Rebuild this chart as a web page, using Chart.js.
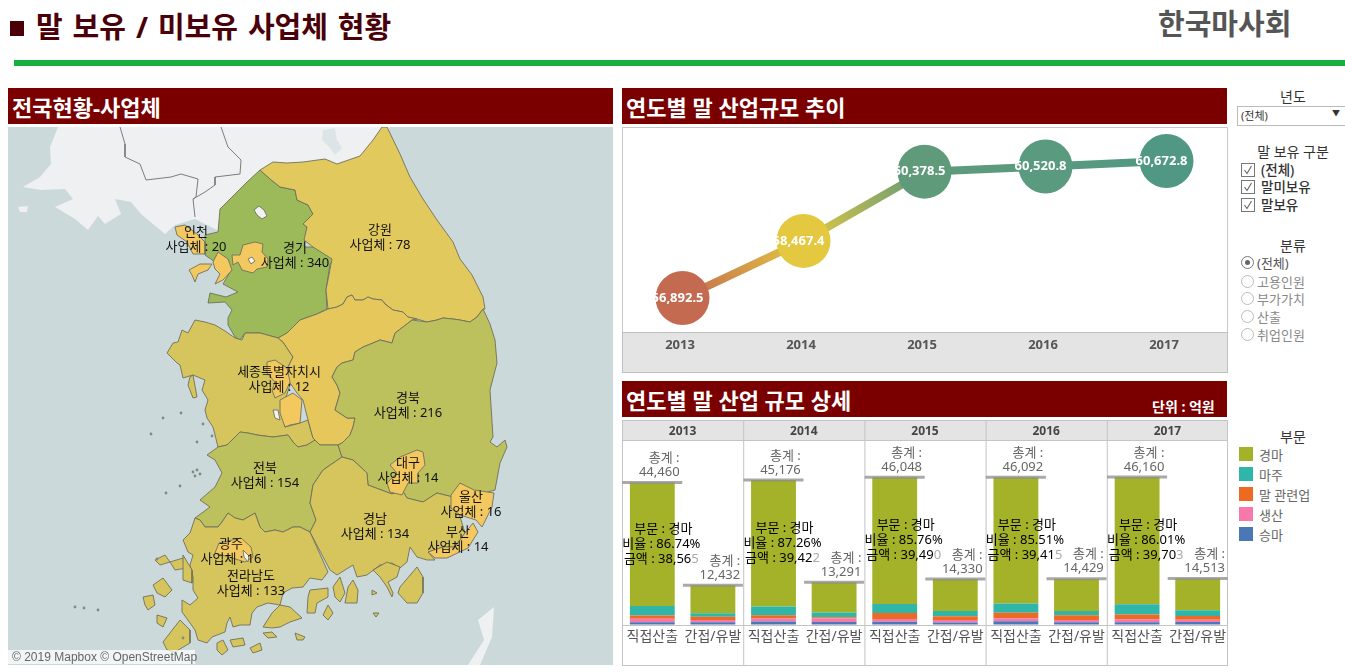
<!DOCTYPE html>
<html lang="ko">
<head>
<meta charset="utf-8">
<title>말 보유 / 미보유 사업체 현황</title>
<script src="https://cdn.jsdelivr.net/npm/chart.js@4"></script>
<style>
  html, body { margin: 0; padding: 0; background: #fff; overflow: hidden; }
  body { width: 1345px; height: 672px; position: relative; font-family: "Noto Sans", "Noto Sans CJK KR", sans-serif; color: #333; }
  .abs { position: absolute; white-space: nowrap; }
  canvas { position: absolute; display: block; }
  .bar-head { position: absolute; background: #7a0000; color: #fff; font-weight: 700; font-size: 22px; height: 36px; line-height: 39px; padding-left: 4px; box-sizing: border-box; white-space: nowrap; }
  .side-title { position: absolute; left: 1240px; width: 106px; text-align: center; font-size: 14px; line-height: 16px; color: #333; white-space: nowrap; }
  .check { position: absolute; left: 1241px; width: 14px; height: 14px; box-sizing: border-box; border: 1px solid #777; background: #fff; }
  .check svg { position: absolute; left: 1px; top: 1px; }
  .check-label { position: absolute; left: 1261px; font-size: 13.5px; line-height: 16px; color: #333; white-space: nowrap; font-weight: 500; }
  .radio { position: absolute; left: 1241px; width: 13px; height: 13px; box-sizing: border-box; border: 1px solid #bbb; border-radius: 50%; background: #fff; }
  .radio.on { border-color: #777; }
  .radio.on::after { content: ""; position: absolute; left: 3px; top: 3px; width: 5px; height: 5px; border-radius: 50%; background: #666; }
  .radio-label { position: absolute; left: 1257px; font-size: 13px; line-height: 14px; color: #888; white-space: nowrap; }
  .radio-label.on { color: #555; }
  .swatch { position: absolute; left: 1239px; width: 14px; height: 14px; }
  .swatch-label { position: absolute; left: 1259px; font-size: 13px; line-height: 14px; color: #666; white-space: nowrap; }
</style>
</head>
<body>

<!-- ====== HEADER ====== -->
<div class="abs" style="left:10px;top:21px;width:14px;height:15px;background:#4a0008"></div>
<div class="abs" style="left:36px;top:7px;font-size:29px;line-height:40px;font-weight:700;color:#4a0008;word-spacing:2.4px">말 보유 / 미보유 사업체 현황</div>
<div class="abs" style="left:1158px;top:3px;font-size:29px;line-height:42px;font-weight:700;color:#555">한국마사회</div>
<div class="abs" style="left:14px;top:60px;width:1331px;height:6px;background:#17b03e"></div>

<div class="bar-head" style="left:8px;top:88px;width:605px">전국현황-사업체</div>
<div class="bar-head" style="left:622px;top:88px;width:605px">연도별 말 산업규모 추이</div>
<div class="bar-head" style="left:622px;top:381px;width:605px">연도별 말 산업 규모 상세</div>
<div class="abs" style="left:1152px;top:398px;font-size:14px;line-height:18px;font-weight:700;color:#fff">단위 : 억원</div>

<!-- ====== PANELS ====== -->
<canvas id="mapChart" width="605" height="538" style="left:8px;top:127px;background:#cbd9db"></canvas>
<div class="abs" style="left:8px;top:650px;width:187px;height:14px;background:rgba(255,255,255,.72);font-family:'Liberation Sans',sans-serif;font-size:12px;line-height:14px;color:#666;padding-left:4px;box-sizing:border-box">© 2019 Mapbox  © OpenStreetMap</div>

<div class="abs" style="left:622px;top:127px;width:606px;height:246px;box-sizing:border-box;border:1px solid #c8c8c8"></div>
<div class="abs" style="left:622px;top:332px;width:606px;height:41px;box-sizing:border-box;background:#e4e4e4;border:1px solid #c0c0c0"></div>
<canvas id="trendChart" width="605" height="244" style="left:622px;top:128px"></canvas>

<canvas id="detailChart" width="606" height="246" style="left:622px;top:420px"></canvas>

<!-- ====== FILTERS ====== -->
<div class="side-title" style="top:89px">년도</div>
<div class="abs" style="left:1237px;top:106px;width:110px;height:20px;box-sizing:border-box;border:1px solid #bbb;font-size:11px;line-height:18px;padding-left:3px;color:#333">(전체)</div>
<div class="abs" style="left:1332px;top:106px;font-size:8px;line-height:14px;color:#333">▼</div>
<div id="filters"></div>
<div id="legendBox"></div>

<script>
// ====== DATA ======
const years = ['2013', '2014', '2015', '2016', '2017'];
const trendValues = [56892.5, 58467.4, 60378.5, 60520.8, 60672.8];
const trendColors = ['#c46a50', '#e3c840', '#5f9a7b', '#5a9a7f', '#509883'];

const detailCats = ['직접산출', '간접/유발', '직접산출', '간접/유발', '직접산출', '간접/유발', '직접산출', '간접/유발', '직접산출', '간접/유발'];
const racing = [38565, 8777, 39422, 9400, 39490, 9930, 39415, 10030, 39703, 9930];
const owners = [2925, 1045, 2700, 1460, 2820, 1670, 2820, 1360, 3190, 1780];
const related = [1045, 1045, 1045, 420, 1880, 1150, 1780, 1460, 1460, 1150];
const breeding = [1045, 730, 940, 1045, 835, 835, 940, 730, 940, 730];
const riding = [880, 835, 1069, 966, 1023, 745, 1137, 849, 867, 923];
const totals = [44460, 12432, 45176, 13291, 46048, 14330, 46092, 14429, 46160, 14513];
const racingShare = ['86.74%', '87.26%', '85.76%', '85.51%', '86.01%'];

const sectors = ['경마', '마주', '말 관련업', '생산', '승마'];
const sectorColors = ['#a3b228', '#2fb6a8', '#ee6a22', '#f878ab', '#4a77b6'];

const ownFilter = ['(전체)', '말미보유', '말보유'];
const kindFilter = ['(전체)', '고용인원', '부가가치', '산출', '취업인원'];

// map regions, outlines in map units
const land = [[58,127],[50,147],[51,164],[40,177],[23,187],[41,190],[65,189],[73,199],[55,207],[75,219],[88,230],[98,216],[105,224],[121,214],[115,199],[131,202],[141,214],[165,234],[175,225],[195,219],[221,232],[225,220],[250,190],[270,175],[300,165],[340,165],[375,150],[390,127]];
const landIsle = [[18,207],[28,206],[27,212],[20,212]];
const tsushima = [[494,607],[478,620],[484,640],[468,665],[480,665],[492,637]];
const lakeNorth = [[323,130],[335,128],[337,140],[342,148],[335,155],[330,148],[322,140]];
const borderWest = [[120,127],[125,144],[125,157],[140,164],[146,180],[171,177],[181,174],[198,179],[196,197],[193,199],[195,217]];
const borderEast = [[221,127],[228,147],[241,160],[240,174],[215,177],[215,185],[205,192],[193,199]];

const gwSouth = [[328,309],[337,307],[343,304],[347,297],[352,295],[355,300],[363,300],[368,297],[373,299],[382,300],[385,304],[393,310],[403,312],[408,317],[417,319],[427,322],[437,320],[443,318],[453,319],[460,320],[470,322],[477,317],[483,309]];
const gbWest = [[412,320],[403,327],[395,333],[392,343],[380,340],[373,343],[363,347],[355,352],[353,360],[342,363],[337,367],[332,377],[337,385],[340,393],[335,410],[347,418],[355,418],[353,427],[350,435],[342,443],[338,445]];
const jbSouth = [[195,518],[200,520],[205,527],[218,527],[222,522],[228,513],[235,518],[243,520],[255,513],[260,527],[265,532],[275,530],[283,532],[293,527],[300,527],[310,532]];
const cnSouth = [[218,447],[227,445],[240,432],[248,433],[257,435],[273,437],[288,435],[293,442],[298,447],[307,445],[315,440]];

const gangwonNorth = [[260,170],[273,162],[287,163],[303,162],[325,159],[337,164],[360,156],[373,140],[382,127],[387,127],[400,154],[410,177],[423,199],[437,220],[453,242],[460,259],[472,275],[483,297],[485,309]];
const gangwonWest = [[326,290],[332,259],[313,247],[304,240],[307,227],[303,224],[313,214],[308,205],[297,200],[295,190],[280,187],[270,179]];
const gangwon = gangwonNorth.concat(gwSouth.slice().reverse(), gangwonWest);
const gyeonggi = [[260,170],[270,179],[280,187],[295,190],[297,200],[308,205],[313,214],[303,224],[307,227],[304,247],[315,247],[335,259],[330,264],[326,290],[327,309],[317,314],[300,320],[287,333],[278,338],[260,333],[245,333],[240,340],[235,337],[228,325],[228,318],[232,310],[225,302],[208,303],[210,293],[226,297],[238,292],[223,284],[230,272],[215,262],[205,255],[205,235],[218,232],[220,209],[247,182]];
const lakeGyeonggi = [[254,210],[259,206],[264,210],[267,216],[262,219],[257,215]];
const chungnam = [[195,320],[205,322],[215,325],[225,331],[235,338],[242,340],[245,333],[260,333],[278,338],[283,342],[293,357],[288,367],[290,385],[285,400],[285,427],[300,423],[308,420],[313,438]].concat(cnSouth.slice().reverse(), [[213,427],[207,418],[205,410],[208,400],[202,390],[205,380],[193,375],[183,378],[180,365],[177,363],[167,353],[173,343],[178,342],[182,330],[188,333]]);
const anmyeon = [[190,377],[193,375],[197,397],[193,398],[188,385]];
const chungbuk = gwSouth.slice(0, 15).concat(gbWest, [[320,445],[313,438],[308,420],[303,400],[297,393],[288,380],[288,367],[293,357],[283,342],[278,338],[287,333],[300,320],[317,314]]);
const gyeongbuk = [[483,309],[490,324],[495,340],[497,363],[490,390],[493,437],[490,442],[497,447],[505,440],[507,447],[500,463],[495,490],[470,497],[453,497],[437,493],[423,502],[407,498],[402,490],[392,494],[368,485],[367,473],[353,460],[342,457]].concat(gbWest.slice().reverse(), gwSouth.slice(15));
const jeonbuk = [[207,455]].concat(cnSouth, [[320,445],[338,445],[342,457],[323,470],[313,485],[310,503],[316,520]], jbSouth.slice().reverse(), [[210,507],[200,500],[215,487],[222,473],[215,460]]);
const gyeongnam = [[342,457],[353,460],[367,473],[368,485],[392,494],[402,490],[407,498],[423,502],[437,493],[453,497],[458,510],[465,533],[455,547],[443,547],[428,552],[435,560],[427,560],[417,557],[410,547],[407,562],[400,568],[392,563],[380,565],[367,575],[357,577],[353,565],[345,570],[337,575],[330,570],[310,532],[316,520],[310,503],[313,485],[323,470]];
const jeonnam = jbSouth.concat([[328,572],[322,580],[310,578],[303,587],[292,588],[283,593],[280,605],[268,603],[257,607],[252,613],[250,625],[240,625],[233,627],[230,617],[227,623],[225,632],[212,637],[207,643],[198,640],[195,630],[190,623],[182,612],[182,600],[190,605],[198,598],[193,590],[193,577],[190,565],[193,555],[188,552],[183,540],[190,533]]);
const yeosu = [[308,597],[307,613],[315,613],[317,603],[328,597],[328,588],[310,590]];
const goheung = [[263,627],[272,613],[280,605],[290,607],[302,618],[290,622],[280,627],[272,628]];
const jindo = [[163,642],[180,620],[190,630],[190,643],[175,652],[167,650]];
const namhae = [[333,587],[340,577],[345,593],[340,602],[335,597]];
const sacheon = [[348,587],[353,580],[358,590],[357,603],[345,603]];
const tongyeong = [[373,570],[380,577],[387,587],[392,597],[393,593],[388,582],[397,577],[400,567],[387,562]];
const geoje = [[400,587],[417,567],[423,577],[423,593],[417,603],[407,603],[398,593]];
const southIsles = [
    [[155,560],[165,555],[170,562],[160,565]], [[170,562],[183,558],[187,568],[175,570]],
    [[143,597],[153,595],[155,605],[148,610],[145,605]], [[153,585],[163,578],[172,590],[165,597],[157,593]],
    [[157,615],[167,618],[163,627],[157,623]], [[183,555],[192,570],[192,583],[183,580]],
    [[263,633],[272,632],[277,637],[268,638]], [[217,643],[223,640],[228,650],[222,655],[217,650]],
    [[230,640],[243,638],[245,645],[233,647]], [[250,648],[260,643],[262,650],[253,653]],
    [[295,633],[305,637],[303,640],[297,640]], [[323,615],[328,605],[333,613],[328,620]],
    [[372,590],[377,593],[372,595]], [[373,613],[379,613],[376,617]]
];
const seoul = [[232,255],[240,255],[243,245],[255,242],[263,244],[262,252],[268,259],[267,267],[257,269],[253,273],[242,270],[238,262],[233,265]];
const seoulHole = [[248,259],[252,257],[255,261],[251,264]];
const incheonA = [[213,262],[218,252],[228,259],[232,270],[223,280],[215,284],[220,274],[215,269]];
const incheonB = [[175,227],[185,225],[197,234],[205,242],[205,254],[193,254],[187,242],[177,235]];
const incheonC = [[189,270],[200,264],[212,264],[208,270],[198,274],[195,282],[192,275]];
const sejong = [[267,362],[275,360],[287,368],[290,382],[285,393],[275,398],[272,390],[275,382],[267,373]];
const daejeon = [[280,400],[293,393],[302,400],[300,423],[290,425],[285,427],[280,413]];
const daejeonHole = [[273,410],[278,410],[280,420],[275,418]];
const daegu = [[390,465],[400,457],[417,450],[423,452],[425,465],[418,473],[418,483],[408,483],[402,495],[390,492],[387,483],[397,473]];
const ulsan = [[451,495],[460,483],[474,490],[494,493],[492,507],[482,527],[476,520],[460,515],[451,508]];
const busan = [[473,523],[478,532],[468,548],[447,558],[435,558],[428,552],[443,547],[455,547],[465,533]];
const gwangju = [[219,543],[241,538],[251,547],[253,557],[245,562],[229,557],[215,553]];
const gwangjuHole = [[243,550],[249,556],[248,562],[244,557]];
const seaDots = [[151,434],[163,418],[181,413],[197,442],[193,472],[197,470],[195,476],[200,474],[166,493],[180,486],[75,660],[157,559],[183,638],[84,608],[75,607],[98,610],[212,436],[203,424]];

const regionNames = ['인천', '경기', '강원', '세종특별자치시', '경북', '대구', '전북', '울산', '경남', '부산', '광주', '전라남도'];
const regionCounts = [20, 340, 78, 12, 216, 14, 154, 16, 134, 14, 16, 133];
const regionLabelX = [196, 295, 380, 279, 408, 408, 265, 471, 375, 458, 231, 251];
const regionLabelY = [239, 255, 237, 379, 405, 470, 475, 504, 526, 539, 551, 583];

// ====== MAP ======
const colBroad = { land: '#eff0f1', gg: '#9cba59', gb: '#bcc05d', gw: '#e2c95d', mid: '#d5c55c', cb: '#e5c75c', city: '#f3c95f', hole: '#f3f3f3', line: '#6f6f5c' };

function poly(points, fillColor, lineColor) {
    return {
        data: points.concat([points[0]]).map(p => ({ x: p[0], y: p[1] })),
        showLine: true,
        fill: 'shape',
        backgroundColor: fillColor,
        borderColor: lineColor || colBroad.line,
        borderWidth: lineColor === 'none' ? 0 : 0.9,
        pointRadius: 0,
        tension: 0
    };
}

function borderLine(points) {
    return { data: points.map(p => ({ x: p[0], y: p[1] })), showLine: true, fill: false, borderColor: '#7d7d7d', borderWidth: 1, pointRadius: 0, tension: 0 };
}

const mapSets = [
    poly(land, colBroad.land, 'none'),
    poly(landIsle, colBroad.land, 'none'),
    poly(tsushima, colBroad.land, 'none'),
    poly(lakeNorth, '#dbe5e7', 'none'),
    borderLine(borderWest),
    borderLine(borderEast),
    poly(gyeonggi, colBroad.gg),
    poly(lakeGyeonggi, colBroad.hole),
    poly(gangwon, colBroad.gw),
    poly(chungnam, colBroad.mid),
    poly(anmyeon, colBroad.mid),
    poly(chungbuk, colBroad.cb),
    poly(jeonbuk, colBroad.gb),
    poly(gyeongbuk, colBroad.gb),
    poly(jeonnam, colBroad.mid),
    poly(gyeongnam, colBroad.mid),
    poly(yeosu, colBroad.mid),
    poly(goheung, colBroad.mid),
    poly(jindo, colBroad.mid),
    poly(namhae, colBroad.mid),
    poly(sacheon, colBroad.mid),
    poly(tongyeong, colBroad.mid),
    poly(geoje, colBroad.mid)
];
southIsles.forEach(s => mapSets.push(poly(s, colBroad.mid)));
[seoul, incheonA, incheonB, incheonC, sejong, daejeon, daegu, ulsan, busan, gwangju].forEach(s => mapSets.push(poly(s, colBroad.city)));
mapSets.push(poly(seoulHole, colBroad.hole), poly(daejeonHole, colBroad.hole), poly(gwangjuHole, colBroad.hole));
mapSets.push({ data: seaDots.map(p => ({ x: p[0], y: p[1] })), showLine: false, pointRadius: 1.4, pointBackgroundColor: '#7f8a80', pointBorderWidth: 0 });
mapSets.forEach((d, i) => { d.order = -i; });

const mapLabels = {
    id: 'mapLabels',
    afterDatasetsDraw(chart) {
        const c = chart.ctx;
        c.save();
        c.fillStyle = '#111';
        c.textAlign = 'center';
        c.textBaseline = 'middle';
        c.font = '13px "Noto Sans", "Noto Sans CJK KR", sans-serif';
        regionNames.forEach((name, i) => {
            const x = chart.scales.x.getPixelForValue(regionLabelX[i]);
            const y = chart.scales.y.getPixelForValue(regionLabelY[i]);
            c.fillText(name, x, y - 7);
            c.fillText('사업체 : ' + regionCounts[i], x, y + 8);
        });
        c.restore();
    }
};

new Chart(document.getElementById('mapChart'), {
    type: 'scatter',
    data: { datasets: mapSets },
    options: {
        responsive: false,
        animation: false,
        layout: { padding: 0, autoPadding: false },
        plugins: { legend: { display: false }, tooltip: { enabled: false } },
        scales: {
            x: { type: 'linear', min: 8, max: 613, display: false },
            y: { type: 'linear', min: 127, max: 665, reverse: true, display: false }
        }
    },
    plugins: [mapLabels]
});

// ====== TREND LINE ======
const trendLabels = {
    id: 'trendLabels',
    afterDatasetsDraw(chart) {
        const c = chart.ctx;
        const pts = chart.getDatasetMeta(0).data;
        c.save();
        c.fillStyle = '#fff';
        c.textAlign = 'center';
        c.textBaseline = 'middle';
        c.font = '700 13px "Noto Sans", "Noto Sans CJK KR", sans-serif';
        pts.forEach((p, i) => {
            c.fillText(trendValues[i].toLocaleString('en-US', { minimumFractionDigits: 1 }), p.x - 5, p.y);
        });
        c.restore();
    }
};

new Chart(document.getElementById('trendChart'), {
    type: 'line',
    data: {
        labels: years,
        datasets: [{
            data: trendValues,
            borderWidth: 8,
            tension: 0,
            pointRadius: 27,
            pointBorderWidth: 0,
            pointBackgroundColor: trendColors,
            segment: {
                borderColor: ctx => {
                    const g = ctx.chart.ctx.createLinearGradient(ctx.p0.x, ctx.p0.y, ctx.p1.x, ctx.p1.y);
                    g.addColorStop(0, trendColors[ctx.p0DataIndex]);
                    g.addColorStop(1, trendColors[ctx.p1DataIndex]);
                    return g;
                }
            }
        }]
    },
    options: {
        responsive: false,
        animation: false,
        layout: { padding: 0, autoPadding: false },
        plugins: { legend: { display: false }, tooltip: { enabled: false } },
        scales: {
            x: {
                offset: true,
                grid: { display: false, drawTicks: false },
                border: { display: false },
                afterFit: s => { s.height = 40; },
                ticks: { color: '#555', padding: 5, labelOffset: -2.5, font: { size: 13, weight: '700', family: '"Noto Sans", sans-serif' } }
            },
            y: { min: 55954, max: 61583, display: false }
        }
    },
    plugins: [trendLabels]
});

// ====== DETAIL BARS ======
const bandY = 20;
const detailFrame = {
    id: 'detailFrame',
    beforeDraw(chart) {
        const c = chart.ctx;
        const a = chart.chartArea;
        c.save();
        c.fillStyle = '#e4e4e4';
        c.fillRect(a.left, 0, a.width, bandY);
        c.fillStyle = '#c4c4c4';
        c.fillRect(a.left, 0, a.width, 1);
        c.fillRect(a.left, bandY, a.width, 1);
        c.fillRect(a.left, a.bottom, a.width, 1);
        c.fillRect(a.left, chart.height - 1, a.width, 1);
        for (let i = 0; i <= years.length; i++) {
            c.fillRect(a.left + Math.min(i * a.width / years.length, a.width - 1), 0, 1, chart.height);
        }
        c.restore();
    },
    afterDatasetsDraw(chart) {
        const c = chart.ctx;
        const xs = chart.scales.x;
        const ys = chart.scales.y;
        const cell = chart.chartArea.width / detailCats.length;
        c.save();
        c.textBaseline = 'middle';
        totals.forEach((t, i) => {
            const right = xs.getPixelForValue(i) + cell / 2 - 3;
            const top = ys.getPixelForValue(t);
            c.font = '13px "Noto Sans", "Noto Sans CJK KR", sans-serif';
            c.fillStyle = '#666';
            c.textAlign = 'right';
            c.fillText('총계 :', right, top - 24);
            c.fillText(t.toLocaleString('en-US'), right, top - 10);
        });
        c.font = '13px "Noto Sans", "Noto Sans CJK KR", sans-serif';
        c.fillStyle = '#000';
        racingShare.forEach((share, k) => {
            const i = k * 2;
            const x = xs.getPixelForValue(i) + 9;
            const mid = ys.getPixelForValue(totals[i] - racing[i] / 2);
            c.textAlign = 'center';
            c.fillStyle = '#000';
            c.fillText('부문 : ' + sectors[0], x + 2, mid - 15);
            c.fillText('비율 : ' + share, x, mid);
            // the last digit of the amount falls outside the text pane and reads pale
            const amount = '금액 : ' + racing[i].toLocaleString('en-US');
            const head = amount.slice(0, -1);
            const left = x - c.measureText(amount).width / 2;
            c.textAlign = 'left';
            c.fillText(head, left, mid + 15);
            c.fillStyle = '#aaa';
            c.fillText(amount.slice(-1), left + c.measureText(head).width, mid + 15);
        });
        c.restore();
    }
};

function stackSet(label, values, color) {
    return { type: 'bar', label: label, data: values, stack: 'sector', backgroundColor: color, barPercentage: 0.74, categoryPercentage: 1, order: 2 };
}

new Chart(document.getElementById('detailChart'), {
    data: {
        labels: detailCats,
        datasets: [
            stackSet(sectors[4], riding, sectorColors[4]),
            stackSet(sectors[3], breeding, sectorColors[3]),
            stackSet(sectors[2], related, sectorColors[2]),
            stackSet(sectors[1], owners, sectorColors[1]),
            stackSet(sectors[0], racing, sectorColors[0]),
            { type: 'line', data: totals, stack: 'total', showLine: false, pointStyle: 'line', pointRadius: 30, pointBorderWidth: 3, pointBorderColor: 'rgba(140,140,140,.75)', order: 1 }
        ]
    },
    options: {
        responsive: false,
        animation: false,
        layout: { padding: 0, autoPadding: false },
        plugins: { legend: { display: false }, tooltip: { enabled: false } },
        scales: {
            x: {
                stacked: true,
                grid: { display: false, tickLength: 3 },
                border: { display: false },
                afterFit: s => { s.height = 41; },
                ticks: { color: '#555', padding: 1, autoSkip: false, maxRotation: 0, font: { size: 14, family: '"Noto Sans", "Noto Sans CJK KR", sans-serif' } }
            },
            yearBand: {
                type: 'category',
                labels: years,
                position: 'top',
                offset: true,
                grid: { display: false, tickLength: 1 },
                border: { display: false },
                afterFit: s => { s.height = bandY; },
                ticks: { color: '#444', padding: 0, maxRotation: 0, font: { size: 12, weight: '700', family: '"Noto Sans", sans-serif' } }
            },
            y: {
                stacked: true,
                min: 0,
                max: 57680,
                display: true,
                afterFit: s => { s.width = 0; },
                border: { display: false },
                grid: { color: c => (c.tick.value === 40000 ? '#f0f0f0' : 'transparent'), drawTicks: false },
                ticks: { display: false, stepSize: 20000 }
            }
        }
    },
    plugins: [detailFrame]
});

// ====== FILTERS ======
const filterBox = document.getElementById('filters');

function addEl(parent, cls, top, text) {
    const el = document.createElement('div');
    el.className = cls;
    el.style.top = top + 'px';
    if (text) el.textContent = text;
    parent.appendChild(el);
    return el;
}

addEl(filterBox, 'side-title', 144, '말 보유 구분');
addEl(filterBox, 'side-title', 238, '분류');
ownFilter.forEach((name, i) => {
    const top = [163, 180, 198][i];
    const box = addEl(filterBox, 'check', top);
    box.innerHTML = '<svg width="10" height="10" viewBox="0 0 10 10"><path d="M1.5 5 L4 8.5 L8.5 1" fill="none" stroke="#666" stroke-width="1.1"/></svg>';
    addEl(filterBox, 'check-label', top - 1, name);
});
kindFilter.forEach((name, i) => {
    const top = [256, 275, 292, 310, 328][i];
    addEl(filterBox, i === 0 ? 'radio on' : 'radio', top);
    addEl(filterBox, i === 0 ? 'radio-label on' : 'radio-label', top, name);
});

// ====== LEGEND ======
const legendBox = document.getElementById('legendBox');
addEl(legendBox, 'side-title', 429, '부문');
sectors.forEach((name, i) => {
    const top = 447 + i * 20;
    addEl(legendBox, 'swatch', top).style.background = sectorColors[i];
    addEl(legendBox, 'swatch-label', top + 1, name);
});
</script>
</body>
</html>
